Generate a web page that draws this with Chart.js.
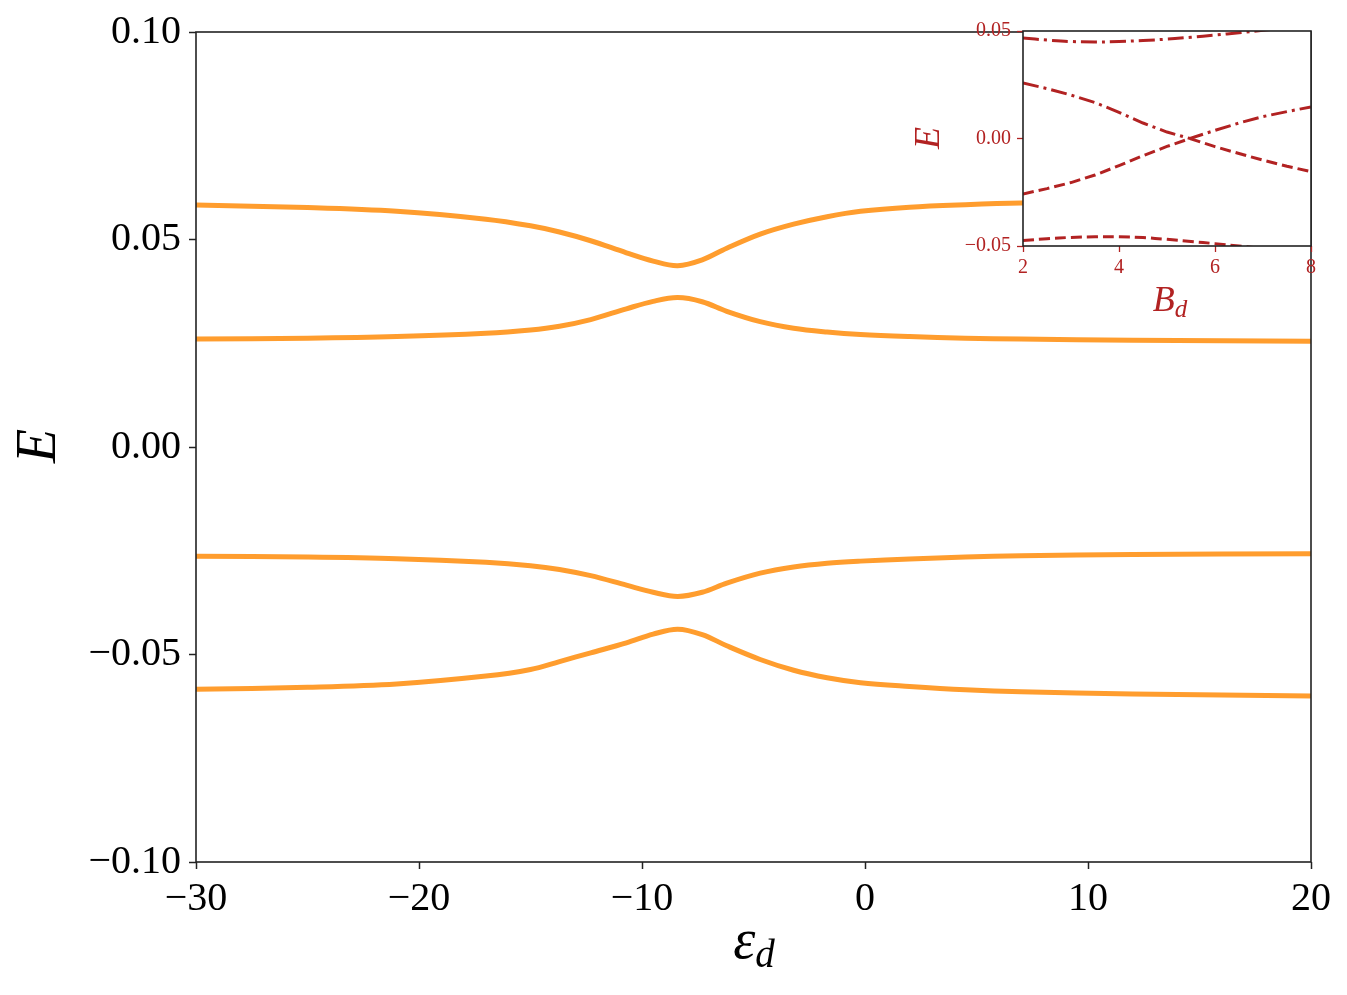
<!DOCTYPE html>
<html>
<head>
<meta charset="utf-8">
<script src="https://cdn.jsdelivr.net/npm/chart.js@4.4.1/dist/chart.umd.min.js"></script>
<style>
  html, body { margin: 0; padding: 0; background: #fff; overflow: hidden; }
  #main { position: absolute; left: 0; top: 0; }
  #inset { position: absolute; left: 880px; top: 0; }
</style>
</head>
<body>
<canvas id="main" width="1347" height="995"></canvas>
<canvas id="inset" width="460" height="340"></canvas>
<script>
// main panel: E vs eps_d
const epsD = [-30, -25, -21, -17, -15, -13.7, -12.3, -10.7, -9.5, -8.4, -7.3, -6.2, -4.7, -3.2, -1.7, -0.2, 2, 4.5, 7, 12, 20];
const band1 = [0.0583, 0.0577, 0.0568, 0.0549, 0.0533, 0.0518, 0.0497, 0.0468, 0.0448, 0.0437, 0.0451, 0.0479, 0.0513, 0.0537, 0.0555, 0.0568, 0.0578, 0.0584, 0.0588, 0.0591, 0.0593];
const band2 = [0.0260, 0.0262, 0.0266, 0.0274, 0.0282, 0.0291, 0.0307, 0.0333, 0.0351, 0.0360, 0.0350, 0.0327, 0.0302, 0.0286, 0.0277, 0.0271, 0.0266, 0.0262, 0.0260, 0.0257, 0.0255];
const band3 = [-0.0263, -0.0265, -0.0269, -0.0278, -0.0286, -0.0295, -0.0310, -0.0333, -0.0350, -0.0360, -0.0350, -0.0328, -0.0304, -0.0289, -0.0280, -0.0275, -0.0270, -0.0265, -0.0262, -0.0259, -0.0257];
const band4 = [-0.0584, -0.0579, -0.0571, -0.0552, -0.0536, -0.0517, -0.0496, -0.0472, -0.0451, -0.0439, -0.0452, -0.0479, -0.0512, -0.0538, -0.0556, -0.0568, -0.0577, -0.0585, -0.0590, -0.0595, -0.0600];
const epsTicks = [-30, -20, -10, 0, 10, 20];
const eTicks = [-0.1, -0.05, 0, 0.05, 0.1];

// inset: E vs B_d
const bD = [2, 2.5, 3, 3.5, 4, 4.5, 5, 5.5, 6, 6.5, 7, 7.5, 8];
const bDInner = [2, 2.5, 3, 3.5, 4, 4.5, 5, 5.48, 6, 6.5, 7, 7.5, 8];
const insetPosOuter = [0.0467, 0.0458, 0.0451, 0.0449, 0.0451, 0.0456, 0.0462, 0.0471, 0.0481, 0.0492, 0.0503, 0.0515, 0.0527];
const insetPosInner = [0.0258, 0.0232, 0.0202, 0.0167, 0.0122, 0.0072, 0.0030, 0, 0.0038, 0.0072, 0.0102, 0.0125, 0.0147];
const insetNegInner = [-0.0258, -0.0233, -0.0205, -0.0170, -0.0126, -0.0080, -0.0037, 0, -0.0038, -0.0070, -0.0101, -0.0129, -0.0154];
const insetNegOuter = [-0.0475, -0.0466, -0.0460, -0.0457, -0.0457, -0.0461, -0.0469, -0.0479, -0.0489, -0.0500, -0.0512, -0.0525, -0.0538];
const bTicks = [2, 4, 6, 8];
const eInsetTicks = [-0.05, 0, 0.05];

const orange = '#ff9d2e';
const red = '#b22222';
const serif = "'Liberation Serif', 'DejaVu Serif', serif";

Chart.defaults.font.family = serif;
Chart.defaults.animation = false;

const pts = (xs, ys) => xs.map((x, i) => ({x: x, y: ys[i]}));
const minus = (s) => s.replace('-', '\u2212');
const fmt2 = (v) => Math.abs(v) < 1e-9 ? '0.00' : minus(v.toFixed(2));
const fmt0 = (v) => minus(String(Math.round(v)));

// box around the plot area
const boxPlugin = {
    id: 'box',
    beforeDraw(chart, args, opts) {
        if (!opts.fill) return;
        const {ctx, chartArea: a} = chart;
        ctx.save();
        ctx.fillStyle = opts.fill;
        ctx.fillRect(a.left, a.top, a.right - a.left, a.bottom - a.top);
        ctx.restore();
    },
    afterDraw(chart) {
        const {ctx, chartArea: a} = chart;
        ctx.save();
        ctx.strokeStyle = '#222';
        ctx.lineWidth = 1.6;
        ctx.strokeRect(a.left, a.top, a.right - a.left, a.bottom - a.top);
        ctx.restore();
    }
};

// axis labels with subscripts
const labelPlugin = {
    id: 'labels',
    afterDraw(chart, args, opts) {
        const ctx = chart.ctx;
        ctx.save();
        ctx.fillStyle = opts.color;
        const yl = opts.y;
        ctx.translate(yl.x, yl.y);
        ctx.rotate(-Math.PI / 2);
        ctx.font = `italic ${yl.size}px ${serif}`;
        ctx.textAlign = 'center';
        ctx.textBaseline = 'middle';
        ctx.fillText(yl.text, 0, 0);
        ctx.restore();

        const xl = opts.x;
        ctx.save();
        ctx.fillStyle = opts.color;
        ctx.textBaseline = 'alphabetic';
        ctx.textAlign = 'left';
        ctx.font = `italic ${xl.size}px ${serif}`;
        const w1 = ctx.measureText(xl.text).width;
        ctx.font = `italic ${Math.round(xl.size * 0.7)}px ${serif}`;
        const w2 = ctx.measureText(xl.sub).width;
        const x0 = xl.x - (w1 + w2) / 2;
        ctx.font = `italic ${xl.size}px ${serif}`;
        ctx.fillText(xl.text, x0, xl.y);
        ctx.font = `italic ${Math.round(xl.size * 0.7)}px ${serif}`;
        ctx.fillText(xl.sub, x0 + w1, xl.y + xl.size * 0.16);
        ctx.restore();
    }
};

function bandSet(data) {
    return {
        data: data,
        borderColor: orange,
        borderWidth: 5,
        pointRadius: 0,
        fill: false,
        tension: 0.35,
        clip: 0
    };
}

new Chart(document.getElementById('main'), {
    type: 'line',
    data: {
        datasets: [
            bandSet(pts(epsD, band1)),
            bandSet(pts(epsD, band2)),
            bandSet(pts(epsD, band3)),
            bandSet(pts(epsD, band4))
        ]
    },
    options: {
        responsive: false,
        layout: {padding: {top: 31, right: 36, left: 0, bottom: 0}},
        plugins: {
            legend: {display: false},
            tooltip: {enabled: false},
            box: {},
            labels: {
                color: '#000',
                y: {text: 'E', x: 40, y: 446, size: 56},
                x: {text: '\u03b5', sub: 'd', x: 754, y: 958, size: 56}
            }
        },
        scales: {
            x: {
                type: 'linear',
                min: -30, max: 20,
                afterBuildTicks: (s) => { s.ticks = epsTicks.map(v => ({value: v})); },
                afterFit: (s) => { s.height = 133; },
                grid: {display: true, drawOnChartArea: false, drawTicks: true, tickLength: 7, tickWidth: 1.5, tickColor: '#222'},
                border: {display: false},
                ticks: {color: '#000', font: {size: 40}, padding: 6, maxRotation: 0, autoSkip: false, callback: fmt0}
            },
            y: {
                type: 'linear',
                min: -0.1, max: 0.1,
                afterBuildTicks: (s) => { s.ticks = eTicks.map(v => ({value: v})); },
                afterFit: (s) => { s.width = 196; },
                grid: {display: true, drawOnChartArea: false, drawTicks: true, tickLength: 7, tickWidth: 1.5, tickColor: '#222'},
                border: {display: false},
                ticks: {color: '#000', font: {size: 40}, padding: 8, autoSkip: false, callback: fmt2}
            }
        }
    },
    plugins: [boxPlugin, labelPlugin]
});

function insetSet(xs, ys, dash, smooth) {
    return {
        data: pts(xs, ys),
        borderColor: red,
        borderWidth: 3,
        borderDash: dash,
        pointRadius: 0,
        fill: false,
        tension: smooth ? 0.35 : 0,
        clip: 0
    };
}

const dashDot = [16, 5, 3, 5];
const dashed = [11, 5];

new Chart(document.getElementById('inset'), {
    type: 'line',
    data: {
        datasets: [
            insetSet(bD, insetPosOuter, dashDot, true),
            insetSet(bDInner, insetPosInner, dashDot, false),
            insetSet(bDInner, insetNegInner, dashed, false),
            insetSet(bD, insetNegOuter, dashed, true)
        ]
    },
    options: {
        responsive: false,
        layout: {padding: {top: 31, right: 29, left: 0, bottom: 0}},
        plugins: {
            legend: {display: false},
            tooltip: {enabled: false},
            box: {fill: '#fff'},
            labels: {
                color: red,
                y: {text: 'E', x: 50, y: 138, size: 36},
                x: {text: 'B', sub: 'd', x: 290, y: 311, size: 36}
            }
        },
        scales: {
            x: {
                type: 'linear',
                min: 2, max: 8,
                afterBuildTicks: (s) => { s.ticks = bTicks.map(v => ({value: v})); },
                afterFit: (s) => { s.height = 94; },
                grid: {display: true, drawOnChartArea: false, drawTicks: true, tickLength: 6, tickWidth: 1.3, tickColor: red},
                border: {display: false},
                ticks: {color: red, font: {size: 20}, padding: 4, maxRotation: 0, autoSkip: false, callback: fmt0}
            },
            y: {
                type: 'linear',
                min: -0.05, max: 0.05,
                afterBuildTicks: (s) => { s.ticks = eInsetTicks.map(v => ({value: v})); },
                afterFit: (s) => { s.width = 143; },
                grid: {display: true, drawOnChartArea: false, drawTicks: true, tickLength: 6, tickWidth: 1.3, tickColor: red},
                border: {display: false},
                ticks: {color: red, font: {size: 20}, padding: 6, autoSkip: false, callback: fmt2}
            }
        }
    },
    plugins: [boxPlugin, labelPlugin]
});
</script>
</body>
</html>
